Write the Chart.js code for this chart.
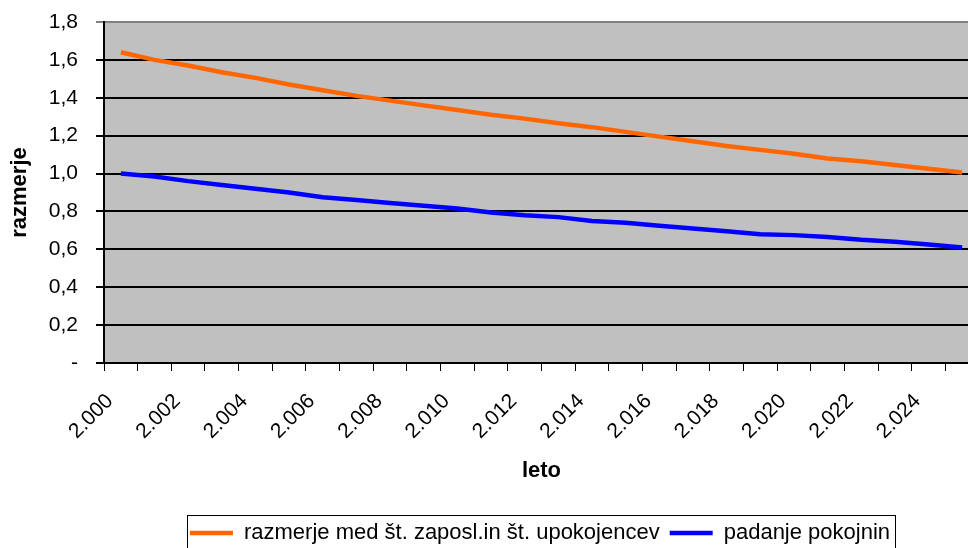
<!DOCTYPE html>
<html><head><meta charset="utf-8">
<script src="https://cdn.jsdelivr.net/npm/chart.js@4.4.1/dist/chart.umd.min.js"></script>
<style>
html,body{margin:0;padding:0;background:#fff;overflow:hidden;width:968px;height:548px;}
#wrap{position:relative;width:1080px;height:560px;}
</style></head><body>
<div id="wrap"><canvas id="c" width="1080" height="560"></canvas></div>
<script>
const years = ['2.000','2.001','2.002','2.003','2.004','2.005','2.006','2.007','2.008','2.009','2.010','2.011','2.012','2.013','2.014','2.015','2.016','2.017','2.018','2.019','2.020','2.021','2.022','2.023','2.024','2.025'];
const ratioEmployedPensioners = [1.64,1.60,1.57,1.535,1.505,1.47,1.44,1.41,1.385,1.36,1.335,1.31,1.29,1.265,1.245,1.22,1.195,1.17,1.145,1.125,1.105,1.08,1.065,1.045,1.025,1.005];
const pensionDecline = [1.00,0.985,0.96,0.94,0.92,0.90,0.875,0.86,0.845,0.83,0.815,0.795,0.78,0.77,0.75,0.74,0.725,0.71,0.695,0.68,0.675,0.665,0.65,0.64,0.625,0.61];
const yTickValues = [0,0.2,0.4,0.6,0.8,1.0,1.2,1.4,1.6,1.8];
const yTickLabels = ['-','0,2','0,4','0,6','0,8','1,0','1,2','1,4','1,6','1,8'];
const seriesNames = ['razmerje med št. zaposl.in št. upokojencev','padanje pokojnin'];
const seriesColors = ['#FF6600','#0000FF'];

const FAM = '"Liberation Sans", Arial, sans-serif';

const plotBg = {
  id:'plotBg',
  beforeDraw(chart){
    const {ctx, chartArea:a} = chart;
    ctx.save();
    ctx.fillStyle = '#C0C0C0';
    ctx.fillRect(a.left, a.top, a.right-a.left, a.bottom-a.top);
    ctx.strokeStyle = '#808080';
    ctx.lineWidth = 2;
    ctx.strokeRect(a.left, a.top, a.right-a.left, a.bottom-a.top);
    ctx.restore();
  }
};
const legendFrame = {
  id:'legendFrame',
  afterDraw(chart){
    const lg = chart.legend; const hb = lg.legendHitBoxes;
    if(!hb || !hb.length) return;
    const first = hb[0], last = hb[hb.length-1];
    const x0 = Math.round(first.left-3), x1 = Math.round(last.left+last.width+5);
    const y0 = Math.round(lg.top+3);
    const ctx = chart.ctx;
    ctx.save();
    ctx.strokeStyle = '#000'; ctx.lineWidth = 1;
    ctx.strokeRect(x0+0.5, y0+0.5, x1-x0, chart.height);
    ctx.restore();
  }
};

new Chart(document.getElementById('c'), {
  type:'line',
  data:{
    labels: years,
    datasets:[
      {label:seriesNames[0], data:ratioEmployedPensioners, borderColor:seriesColors[0], backgroundColor:seriesColors[0], borderWidth:4.5, pointRadius:0, pointStyle:'line', tension:0, fill:false},
      {label:seriesNames[1], data:pensionDecline, borderColor:seriesColors[1], backgroundColor:seriesColors[1], borderWidth:4.5, pointRadius:0, pointStyle:'line', tension:0, fill:false}
    ]
  },
  options:{
    responsive:false, animation:false, devicePixelRatio:1,
    layout:{padding:{top:22,left:0,right:0,bottom:6}},
    plugins:{
      legend:{
        position:'bottom',
        labels:{usePointStyle:true, pointStyleWidth:43, color:'#000', padding:10, font:{family:FAM, size:22}}
      },
      tooltip:{enabled:false}
    },
    scales:{
      x:{
        type:'category', offset:true,
        grid:{display:true, offset:true, drawOnChartArea:false, drawTicks:true, tickLength:8, color:'#000', lineWidth:1},
        border:{display:true, color:'#000', width:2},
        ticks:{autoSkip:false, maxRotation:45, minRotation:45, padding:18, labelOffset:-11, color:'#000', font:{family:FAM, size:21},
          callback:(v,i)=> i%2===0 ? years[i] : ''},
        title:{display:true, text:'leto', color:'#000', font:{family:FAM, size:22, weight:'bold'}, padding:{top:0,bottom:28}},
        afterFit(s){ s.height = 149; s.paddingLeft = 0; s.paddingRight = 101; }
      },
      y:{
        min:0, max:1.8,
        afterBuildTicks(s){ s.ticks = yTickValues.map(v=>({value:v})); },
        ticks:{padding:18, color:'#000', font:{family:FAM, size:21}, callback:(v,i)=>yTickLabels[i]},
        grid:{color:(c)=> (c.tick && c.tick.value===1.8) ? '#808080' : '#000', lineWidth:2, tickLength:8, drawTicks:true},
        border:{display:true, color:'#000', width:2},
        title:{display:true, text:'razmerje', color:'#000', font:{family:FAM, size:22, weight:'bold'}, padding:{top:7,bottom:0}},
        afterFit(s){ s.width = 104; s.paddingTop = 0; s.paddingBottom = 0; }
      }
    }
  },
  plugins:[plotBg, legendFrame]
});
</script>
</body></html>
